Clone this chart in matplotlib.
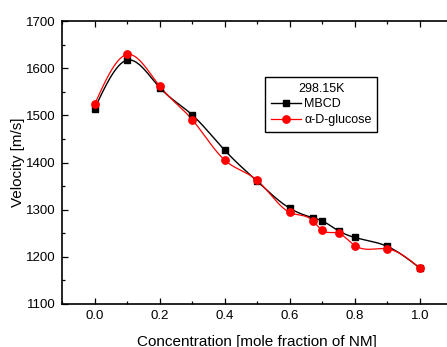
import numpy as np
import matplotlib
matplotlib.use("Agg")
import matplotlib.pyplot as plt
from matplotlib.ticker import MultipleLocator

conc = [0.0, 0.1, 0.2, 0.3, 0.4, 0.5, 0.6, 0.67, 0.7, 0.75, 0.8, 0.9, 1.0]
mbcd = [1514, 1617, 1559, 1501, 1426, 1360, 1303, 1283, 1276, 1255, 1241, 1222, 1176]
glucose = [1523, 1629, 1562, 1491, 1405, 1362, 1294, 1277, 1256, 1250, 1224, 1217, 1176]
legend_title = "298.15K"
series_names = ["MBCD", "\u03b1-D-glucose"]


def natural_spline(x, y, n=400):
    x = np.asarray(x, float)
    y = np.asarray(y, float)
    k = len(x)
    h = np.diff(x)
    A = np.zeros((k, k))
    b = np.zeros(k)
    A[0, 0] = 1
    A[-1, -1] = 1
    for i in range(1, k - 1):
        A[i, i - 1] = h[i - 1]
        A[i, i] = 2 * (h[i - 1] + h[i])
        A[i, i + 1] = h[i]
        b[i] = 3 * ((y[i + 1] - y[i]) / h[i] - (y[i] - y[i - 1]) / h[i - 1])
    c = np.linalg.solve(A, b)
    xs = np.linspace(x[0], x[-1], n)
    idx = np.clip(np.searchsorted(x, xs) - 1, 0, k - 2)
    dx = xs - x[idx]
    hi = h[idx]
    bi = (y[idx + 1] - y[idx]) / hi - hi * (2 * c[idx] + c[idx + 1]) / 3
    di = (c[idx + 1] - c[idx]) / (3 * hi)
    ys = y[idx] + bi * dx + c[idx] * dx ** 2 + di * dx ** 3
    return xs, ys


plt.rcParams['font.family'] = ['Liberation Sans', 'DejaVu Sans']

fig = plt.figure(figsize=(4.47, 3.47), dpi=100)
ax = fig.add_axes([62 / 447, 1 - 304 / 347, (452.5 - 62) / 447, (304 - 21) / 347])

xs, ys = natural_spline(conc, mbcd)
ax.plot(xs, ys, color='black', lw=1.0, zorder=2)
ax.plot(conc, mbcd, ls='none', marker='s', ms=4.8, color='black', zorder=3)
xs, ys = natural_spline(conc, glucose)
ax.plot(xs, ys, color='red', lw=0.9, zorder=2)
ax.plot(conc, glucose, ls='none', marker='o', ms=5.3, color='red', zorder=4)

h1, = ax.plot([], [], color='black', lw=1.0, marker='s', ms=4.8)
h2, = ax.plot([], [], color='red', lw=0.9, marker='o', ms=5.3)
leg = ax.legend([h1, h2], series_names, title=legend_title, loc='upper left',
                bbox_to_anchor=(265 / 447, 1 - 77 / 347), bbox_transform=fig.transFigure,
                fancybox=False, framealpha=1, edgecolor='black', fontsize=9,
                title_fontsize=9, handlelength=2.4, handletextpad=0.3,
                borderpad=0.45, labelspacing=0.3, borderaxespad=0)
leg.get_frame().set_linewidth(1.0)

ax.set_xlim(-0.1, 1.1)
ax.set_ylim(1100, 1700)
ax.xaxis.set_major_locator(MultipleLocator(0.2))
ax.xaxis.set_minor_locator(MultipleLocator(0.1))
ax.yaxis.set_major_locator(MultipleLocator(100))
ax.yaxis.set_minor_locator(MultipleLocator(50))
ax.tick_params(which='both', direction='in', top=True, right=True, labelsize=9.5, width=0.9, pad=4.5)
ax.tick_params(which='major', length=4)
ax.tick_params(which='minor', length=2.5)
ax.xaxis.set_major_formatter(matplotlib.ticker.FormatStrFormatter('%.1f'))
for s in ax.spines.values():
    s.set_linewidth(1.2)

ax.set_xlabel("Concentration [mole fraction of NM]", fontsize=11, labelpad=9)
ax.set_ylabel("Velocity [m/s]", fontsize=11, labelpad=1)

fig.savefig("out.png", dpi=100)
